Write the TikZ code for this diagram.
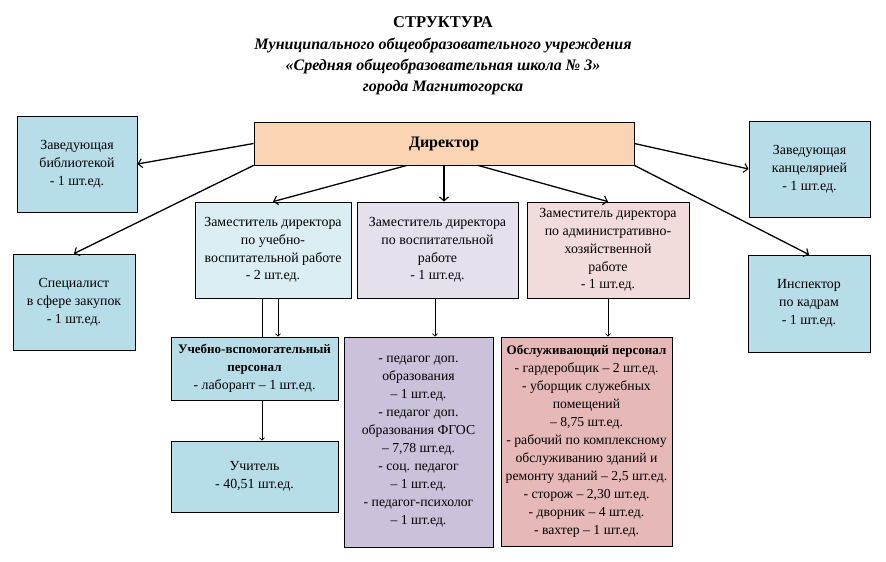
\documentclass[tikz,border=0pt]{standalone}
\usepackage{fontspec}
\setmainfont{Liberation Serif}
\usetikzlibrary{arrows.meta}
\definecolor{peach}{HTML}{FBD4B4}
\definecolor{skyblue}{HTML}{B7DDE8}
\definecolor{paleblue}{HTML}{DAEEF3}
\definecolor{palelilac}{HTML}{E5E0EC}
\definecolor{palerose}{HTML}{F2DCDB}
\definecolor{lilac}{HTML}{CCC1DA}
\definecolor{rose}{HTML}{E6B9B8}
\newcommand{\boxhead}[1]{{\fontsize{13}{17.8}\selectfont\bfseries #1}}
\begin{document}
\begin{tikzpicture}[
			x=1pt, y=-1pt,
			box/.style={draw, line width=0.8pt, inner sep=0pt, align=center,
				font=\fontsize{13.9}{17.8}\selectfont},
			listbox/.style={box, font=\fontsize{13.7}{18}\selectfont},
			mainarrow/.style={-{Straight Barb[length=4pt,width=9pt,line width=1.1pt]}, line width=1.3pt},
			subarrow/.style={-{Straight Barb[length=2.5pt,width=5pt]}, line width=0.7pt}
		]
		\useasboundingbox (0,0) rectangle (886,562);
		\node (title) at (443,22) {\fontsize{16.5}{18}\selectfont\bfseries СТРУКТУРА};
		\node[align=center, font=\fontsize{16}{21}\selectfont\bfseries\itshape] (subtitle) at (443,66)
			{Муниципального общеобразовательного учреждения\\«Средняя общеобразовательная школа № 3»\\города Магнитогорска};
		\node[box, fill=peach, minimum width=380pt, minimum height=43pt] (dir) at (444,143.5)
			{\fontsize{16}{18}\selectfont\bfseries Директор};
		\node[box, fill=skyblue, minimum width=120pt, minimum height=96pt] (lib) at (77,164)
			{Заведующая\\библиотекой\\- 1 шт.ед.};
		\node[box, fill=skyblue, minimum width=122pt, minimum height=96pt] (spec) at (74,302)
			{Специалист\\в сфере закупок\\- 1 шт.ед.};
		\node[box, fill=skyblue, minimum width=121pt, minimum height=96pt] (kanc) at (809.5,169)
			{Заведующая\\канцелярией\\- 1 шт.ед.};
		\node[box, fill=skyblue, minimum width=122pt, minimum height=97pt] (insp) at (809,303.5)
			{Инспектор\\по кадрам\\- 1 шт.ед.};
		\node[box, fill=paleblue, minimum width=156pt, minimum height=96pt] (zamA) at (273,250)
			{Заместитель директора\\по учебно-\\воспитательной работе\\- 2 шт.ед.};
		\node[box, fill=palelilac, minimum width=161pt, minimum height=96pt] (zamB) at (437.5,250)
			{Заместитель директора\\по воспитательной\\работе\\- 1 шт.ед.};
		\node[box, fill=palerose, minimum width=162pt, minimum height=96pt] (zamC) at (608,250)
			{Заместитель директора\\по административно-\\хозяйственной\\работе\\- 1 шт.ед.};
		\node[box, fill=skyblue, minimum width=167pt, minimum height=63pt] (uvp) at (254.5,368.5)
			{\boxhead{Учебно-вспомогательный}\\\boxhead{персонал}\\- лаборант -- 1 шт.ед.};
		\node[box, fill=skyblue, minimum width=167pt, minimum height=71pt] (uch) at (254.5,476.5)
			{Учитель\\- 40,51 шт.ед.};
		\node[listbox, fill=lilac, minimum width=149pt, minimum height=210pt] (ped) at (418.5,442)
			{- педагог доп.\\образования\\-- 1 шт.ед.\\- педагог доп.\\образования ФГОС\\-- 7,78 шт.ед.\\- соц. педагог\\-- 1 шт.ед.\\- педагог-психолог\\-- 1 шт.ед.};
		\node[listbox, fill=rose, minimum width=171pt, minimum height=209pt] (obs) at (586.5,441.5)
			{\boxhead{Обслуживающий персонал}\\- гардеробщик -- 2 шт.ед.\\- уборщик служебных\\помещений\\-- 8,75 шт.ед.\\- рабочий по комплексному\\обслуживанию зданий и\\ремонту зданий -- 2,5 шт.ед.\\- сторож -- 2,30 шт.ед.\\- дворник -- 4 шт.ед.\\- вахтер -- 1 шт.ед.};
		\coordinate (dA) at ([xshift=-37pt]dir.south);
		\coordinate (dC) at ([xshift=34pt]dir.south);
		\coordinate (aL) at ([xshift=-11pt]zamA.south);
		\coordinate (aR) at ([xshift=5pt]zamA.south);
		\coordinate (uL) at ([xshift=7.5pt]uvp.south);
		\coordinate (bS) at ([xshift=-2.5pt]zamB.south);
		\draw[mainarrow] (dir.west) -- (lib.east);
		\draw[mainarrow] (dir.south west) -- (spec.north);
		\draw[mainarrow] (dA) -- (zamA.north);
		\draw[mainarrow] (dir.south) -- (dir.south |- zamB.north);
		\draw[mainarrow] (dC) -- (zamC.north);
		\draw[mainarrow] (dir.east) -- (kanc.west);
		\draw[mainarrow] (dir.south east) -- (insp.north);
		\draw[line width=0.7pt] (aL) -- (aL |- uvp.north);
		\draw[subarrow] (aR) -- (aR |- uvp.north);
		\draw[subarrow] (uL) -- (uL |- uch.north);
		\draw[subarrow] (bS) -- (bS |- ped.north);
		\draw[subarrow] (zamC.south) -- (zamC.south |- obs.north);
	\end{tikzpicture}
\end{document}
